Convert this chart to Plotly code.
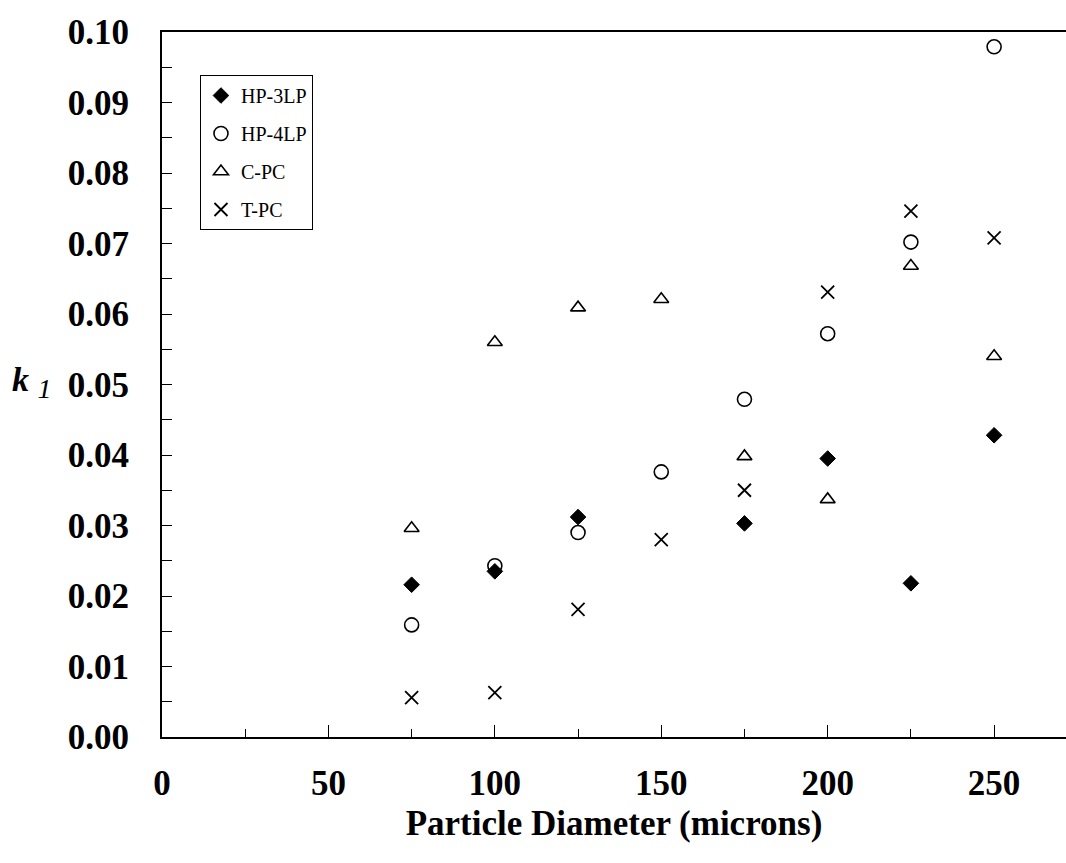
import plotly.graph_objects as go

diameters = [75, 100, 125, 150, 175, 200, 225, 250]

hp3lp_x = [75, 100, 125, 175, 200, 225, 250]
hp3lp_k1 = [0.0216, 0.0235, 0.0312, 0.0303, 0.0395, 0.0218, 0.0428]

hp4lp_x = [75, 100, 125, 150, 175, 200, 225, 250]
hp4lp_k1 = [0.0159, 0.0243, 0.0290, 0.0376, 0.0479, 0.0572, 0.0702, 0.0979]

cpc_x = [75, 100, 125, 150, 175, 200, 225, 250]
cpc_k1 = [0.0296, 0.0560, 0.0609, 0.0621, 0.0398, 0.0337, 0.0668, 0.0540]

tpc_x = [75, 100, 125, 150, 175, 200, 225, 250]
tpc_k1 = [0.0056, 0.0063, 0.0181, 0.0280, 0.0350, 0.0631, 0.0746, 0.0708]

x_ticks = [0, 50, 100, 150, 200, 250]
y_ticks = [0.00, 0.01, 0.02, 0.03, 0.04, 0.05, 0.06, 0.07, 0.08, 0.09, 0.10]

SERIF = "Liberation Serif, Times New Roman, serif"

fig = go.Figure()
series = [
    ("HP-3LP", hp3lp_x, hp3lp_k1, dict(symbol="diamond", size=12, color="black",
                                        line=dict(color="black", width=1))),
    ("HP-4LP", hp4lp_x, hp4lp_k1, dict(symbol="circle-open", size=14, color="black",
                                        line=dict(color="black", width=1.6))),
    ("C-PC", cpc_x, cpc_k1, dict(symbol="triangle-up-open", size=13, color="black",
                                  line=dict(color="black", width=1.6))),
    ("T-PC", tpc_x, tpc_k1, dict(symbol="x-thin-open", size=13, color="black",
                                  line=dict(color="black", width=1.8))),
]
for i, (name, xs, ys, mk) in enumerate(series):
    fig.add_trace(go.Scatter(x=xs, y=ys, mode="markers", name=name, marker=mk,
                             legendgroup=f"g{i}", showlegend=True))

fig.update_layout(
    width=1066, height=863,
    margin=dict(l=162, r=0, t=32, b=126),
    paper_bgcolor="white", plot_bgcolor="white",
    font=dict(family=SERIF, color="black"),
    showlegend=True,
    legend=dict(
        x=0.042, y=0.939, xanchor="left", yanchor="top",
        bgcolor="white", bordercolor="black", borderwidth=1,
        font=dict(family=SERIF, size=20, color="black"),
        tracegroupgap=9,
    ),
    xaxis=dict(
        range=[0, 271.6], tickmode="array", tickvals=x_ticks,
        ticktext=[str(v) for v in x_ticks],
        ticks="inside", ticklen=12, tickwidth=1.2, tickcolor="black",
        minor=dict(dtick=25, tick0=0, ticks="inside", ticklen=8, tickwidth=1.2, tickcolor="black"),
        showline=True, linecolor="black", linewidth=2, mirror=True,
        showgrid=False, zeroline=False,
        tickfont=dict(family=SERIF, size=35, color="black", weight="bold"),
        ticklabelstandoff=14,
        title=dict(text="<b>Particle Diameter (microns)</b>",
                   font=dict(family=SERIF, size=35, color="black"), standoff=8),
    ),
    yaxis=dict(
        range=[0, 0.1], tickmode="array", tickvals=y_ticks,
        ticktext=[f"{v:.2f}" for v in y_ticks],
        ticks="inside", ticklen=10, tickwidth=1.2, tickcolor="black",
        minor=dict(dtick=0.005, tick0=0, ticks="inside", ticklen=10, tickwidth=1.2, tickcolor="black"),
        showline=True, linecolor="black", linewidth=2, mirror=False,
        showgrid=False, zeroline=False,
        tickfont=dict(family=SERIF, size=35, color="black", weight="bold"),
        ticklabelstandoff=24,
    ),
)

fig.add_annotation(
    text="<b><i>k</i></b> <i><sub><span style='font-size:28px'>1</span></sub></i>",
    xref="paper", yref="paper", x=(10 - 162) / 904, y=(737.5 - 383) / 705,
    xanchor="left", yanchor="middle", showarrow=False,
    font=dict(family=SERIF, size=34, color="black"),
)

fig.write_html("out.html")
